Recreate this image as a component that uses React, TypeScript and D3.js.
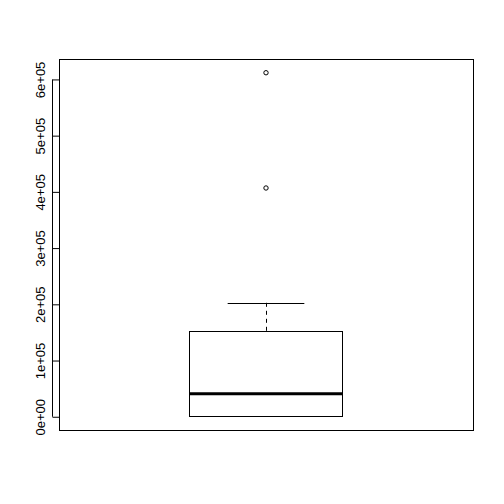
import React, { useRef, useEffect } from 'react';
import * as d3 from 'd3';

// five-number summary, plus the outliers
const boxStats = [0, 300, 40000, 152000, 202000]; // lower whisker, Q1, median, Q3, upper whisker
const outliers = [406000, 611000];
const yTicks = [0, 100000, 200000, 300000, 400000, 500000, 600000];
const yTickLabels = ['0e+00', '1e+05', '2e+05', '3e+05', '4e+05', '5e+05', '6e+05'];

const App: React.FC = () => {
    const svgRef = useRef<SVGSVGElement | null>(null);

    useEffect(() => {
        if (!svgRef.current) return;
        const svg = d3.select(svgRef.current);
        svg.selectAll("*").remove();

        const size = 504;
        const margin = { top: 59, right: 31, bottom: 74, left: 59 };
        const plotRight = size - margin.right;
        const plotBottom = size - margin.bottom;

        // R style axis ranges: 4% padding on each side
        const allVals = [...boxStats, ...outliers];
        const lo = d3.min(allVals)!;
        const hi = d3.max(allVals)!;
        const pad = (hi - lo) * 0.04;

        const y = d3.scaleLinear()
            .domain([lo - pad, hi + pad])
            .range([plotBottom, margin.top]);

        const x = d3.scaleLinear()
            .domain([0.5 - 0.04, 1.5 + 0.04])
            .range([margin.left, plotRight]);

        svg.attr("width", size).attr("height", size);
        svg.append("rect")
            .attr("width", size).attr("height", size)
            .attr("fill", "#ffffff");

        // frame
        svg.append("rect")
            .attr("x", margin.left + 0.5)
            .attr("y", margin.top + 0.5)
            .attr("width", plotRight - margin.left)
            .attr("height", plotBottom - margin.top)
            .attr("fill", "none")
            .attr("stroke", "#000")
            .attr("stroke-width", 1);

        // Y-axis
        const yAxis = svg.append("g")
            .attr("transform", `translate(${margin.left + 0.5},0.5)`)
            .call(d3.axisLeft(y)
                .tickValues(yTicks)
                .tickSize(7)
                .tickFormat((d, i) => yTickLabels[i]));
        yAxis.select(".domain")
            .attr("d", `M-7,${y(yTicks[0])}V${y(yTicks[yTicks.length - 1])}`)
            .attr("stroke", "#000");
        yAxis.selectAll("line").attr("stroke", "#000");
        yAxis.selectAll("text")
            .attr("x", 0)
            .attr("y", 0)
            .attr("dy", null)
            .attr("transform", "translate(-15,0) rotate(-90)")
            .attr("text-anchor", "middle")
            .attr("fill", "#000")
            .style("font-family", "'Liberation Sans', Arial, sans-serif")
            .style("font-size", "13px");

        // box
        const cx = x(1);
        const boxHalf = x(1.2) - cx;
        const capHalf = boxHalf / 2;
        const [wLow, q1, med, q3, wHigh] = boxStats;
        const g = svg.append("g");

        // whiskers
        [[q3, wHigh], [q1, wLow]].forEach(([from, to]) => {
            g.append("line")
                .attr("x1", Math.round(cx) + 0.5).attr("x2", Math.round(cx) + 0.5)
                .attr("y1", y(from)).attr("y2", y(to))
                .attr("stroke", "#000")
                .attr("stroke-dasharray", "4,4");
            g.append("line")
                .attr("x1", cx - capHalf).attr("x2", cx + capHalf)
                .attr("y1", Math.round(y(to)) + 0.5).attr("y2", Math.round(y(to)) + 0.5)
                .attr("stroke", "#000");
        });

        g.append("rect")
            .attr("x", Math.round(cx - boxHalf) + 0.5)
            .attr("y", Math.round(y(q3)) + 0.5)
            .attr("width", Math.round(2 * boxHalf))
            .attr("height", Math.round(y(q1)) - Math.round(y(q3)))
            .attr("fill", "#fff")
            .attr("stroke", "#000");

        g.append("line")
            .attr("x1", cx - boxHalf).attr("x2", cx + boxHalf)
            .attr("y1", y(med)).attr("y2", y(med))
            .attr("stroke", "#000")
            .attr("stroke-width", 3);

        // outliers
        g.selectAll("circle")
            .data(outliers)
            .enter()
            .append("circle")
            .attr("cx", cx)
            .attr("cy", d => y(d))
            .attr("r", 2.2)
            .attr("fill", "none")
            .attr("stroke", "#000")
            .attr("stroke-width", 1);
    }, []);

    return (
        <svg ref={svgRef} style={{ position: 'absolute', left: 0, top: 0 }}></svg>
    );
};

export default App;
